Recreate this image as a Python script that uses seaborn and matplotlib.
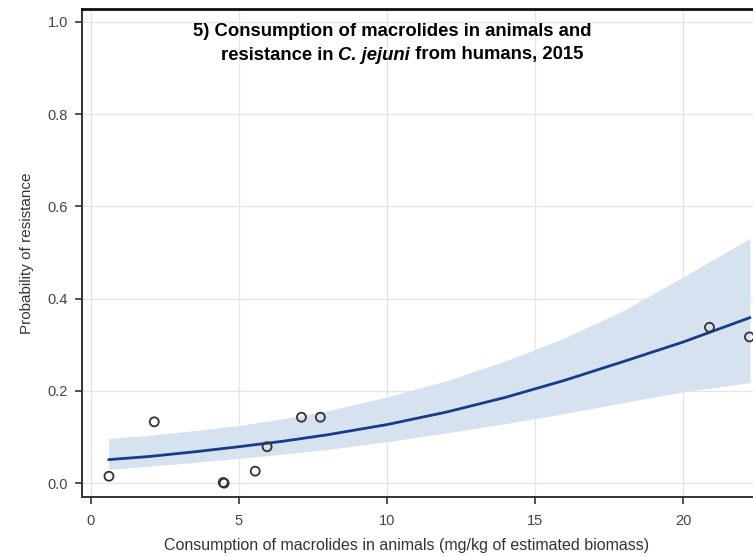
import matplotlib
matplotlib.use("Agg")
import matplotlib.pyplot as plt
import seaborn as sns
import pandas as pd

# Observed data (country points)
obs_x = [0.61, 2.14, 4.47, 4.50, 5.55, 5.95, 7.11, 7.75, 20.89, 22.24]
obs_y = [0.015, 0.133, 0.0015, 0.0, 0.026, 0.079, 0.143, 0.143, 0.338, 0.317]

# Fitted curve and confidence band
fit_x = [0.6, 2.0, 3.5, 5.0, 6.5, 8.0, 10.0, 12.0, 14.0, 16.0, 18.0, 20.0, 22.26]
fit_y = [0.051, 0.058, 0.068, 0.079, 0.091, 0.105, 0.127, 0.154, 0.186, 0.223, 0.264, 0.306, 0.359]
fit_hi = [0.097, 0.104, 0.114, 0.125, 0.140, 0.157, 0.187, 0.222, 0.265, 0.315, 0.375, 0.447, 0.531]
fit_lo = [0.030, 0.037, 0.045, 0.054, 0.063, 0.073, 0.090, 0.109, 0.129, 0.151, 0.175, 0.198, 0.218]

x_ticks = [0, 5, 10, 15, 20]
y_ticks = [0.0, 0.2, 0.4, 0.6, 0.8, 1.0]
y_tick_labels = ["0.0", "0.2", "0.4", "0.6", "0.8", "1.0"]

title_line1 = "5) Consumption of macrolides in animals and"
title_line2 = ["resistance in ", "C. jejuni", " from humans, 2015"]
x_label = "Consumption of macrolides in animals (mg/kg of estimated biomass)"
y_label = "Probability of resistance"

sns.set_style("white")
plt.rcParams["font.family"] = ["Liberation Sans", "DejaVu Sans"]

fig = plt.figure(figsize=(7.53, 5.56), dpi=100)
ax = fig.add_axes([82/753, 59/556, 1 - 82/753, (497 - 9)/556])

df_fit = pd.DataFrame({"x": fit_x, "y": fit_y, "lo": fit_lo, "hi": fit_hi})
df_obs = pd.DataFrame({"x": obs_x, "y": obs_y})

ax.fill_between(df_fit["x"], df_fit["lo"], df_fit["hi"], color="#d6e2f0", lw=0, zorder=1)
sns.lineplot(data=df_fit, x="x", y="y", ax=ax, color="#183b8a", lw=2, zorder=3)
sns.scatterplot(data=df_obs, x="x", y="y", ax=ax, marker="o", s=42,
                facecolor="none", edgecolor="#333333", linewidth=1.3, zorder=4)

ax.set_xlim(-0.30, 22.36)
ax.set_ylim(-0.030, 1.028)
ax.set_xticks(x_ticks)
ax.set_yticks(y_ticks)
ax.set_yticklabels(y_tick_labels)

ax.grid(True, color="#e6e6e6", lw=1.0, zorder=0)
ax.set_axisbelow(True)

for s in ["left", "bottom"]:
    ax.spines[s].set_color("#333333")
    ax.spines[s].set_linewidth(1.4)
ax.spines["top"].set_color("#111111")
ax.spines["top"].set_linewidth(2)
ax.spines["right"].set_visible(False)

ax.tick_params(axis="both", which="major", direction="out", length=5, width=1.2,
               color="#333333", labelsize=10.5, labelcolor="#444444", pad=5,
               bottom=True, left=True)
ax.tick_params(axis="x", pad=7)

ax.set_xlabel(x_label, fontsize=11.5, color="#333333", labelpad=8)
ax.xaxis.set_label_coords((407 - 82) / 671, -0.085)
ax.set_ylabel(y_label, fontsize=11, color="#333333", labelpad=10)

# Title inside plot area
cx1 = 392 / 753
cx2 = 402 / 753
fs_title = 13.3
fig.text(cx1, 1 - 31/556, title_line1, ha="center", va="center",
         fontsize=fs_title, fontweight="bold", color="black")
fig.canvas.draw()
renderer = fig.canvas.get_renderer()
styles = ["normal", "italic", "normal"]
pieces = []
widths = []
for t, st in zip(title_line2, styles):
    tx = fig.text(0, 1 - 55/556, t, ha="left", va="center", fontsize=fs_title,
                  fontweight="bold", fontstyle=st, color="black")
    pieces.append(tx)
    widths.append(tx.get_window_extent(renderer).width / fig.bbox.width)
total = sum(widths)
start = cx2 - total / 2
for tx, w in zip(pieces, widths):
    tx.set_x(start)
    start += w

fig.savefig("out.png", dpi=100)
